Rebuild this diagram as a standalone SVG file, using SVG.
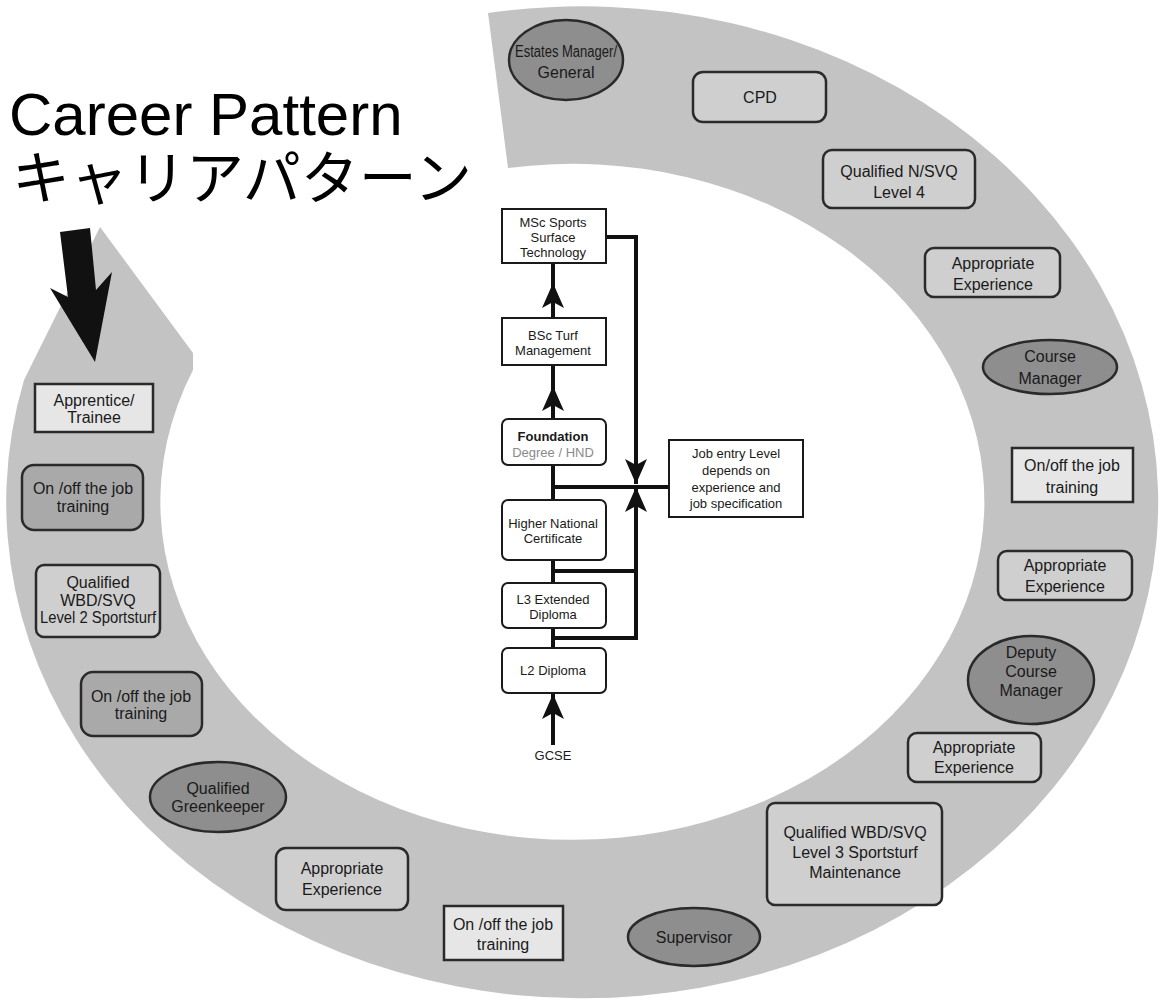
<svg xmlns="http://www.w3.org/2000/svg" width="1162" height="1000" viewBox="0 0 1162 1000">
<style>
.band{fill:#c3c3c3}
.ell{fill:#8e8e8e;stroke:#2a2a2a;stroke-width:2.5}
.box{fill:#cfcfcf;stroke:#2a2a2a;stroke-width:2.5}
.lbox{fill:#e6e6e6;stroke:#2a2a2a;stroke-width:2.5}
.dbox{fill:#a9a9a9;stroke:#2a2a2a;stroke-width:2.5}
.cbox{fill:#ffffff;stroke:#1a1a1a;stroke-width:2}
.t{font-family:"Liberation Sans",Arial,sans-serif;font-size:16px;text-anchor:middle;fill:#1a1a1a}
.tc{font-family:"Liberation Sans",Arial,sans-serif;font-size:13px;text-anchor:middle;fill:#1a1a1a}
.title{font-family:"Liberation Sans","Noto Sans CJK JP",sans-serif;fill:#000}
.conn{stroke:#111;stroke-width:4;fill:none}
</style>
<defs>
<marker id="ah" markerUnits="userSpaceOnUse" markerWidth="26" markerHeight="24" viewBox="0 0 26 24" refX="25" refY="12" orient="auto">
<path d="M0,1 L25,12 L0,23 L6,12 Z" fill="#111"/>
</marker>
</defs>

<g id="ring">
<path class="band" d="M488,13 A576,496 0 1 1 24,380 L100,227 L193,353 L193,370 A412,338 0 1 0 508,168 Z"/>
</g>

<g id="title">
<text class="title" x="9" y="135" font-size="60">Career Pattern</text>
<text class="title" x="12" y="199" font-size="58">キャリアパターン</text>
<polygon points="60,232 90,228 96,290 112,272 95,362 50,288 68,297" fill="#111"/>
</g>

<g id="n-estates"><ellipse class="ell" cx="566" cy="60" rx="57" ry="40"/><text class="t" font-size="13.5"><tspan x="566" y="57" textLength="102" lengthAdjust="spacingAndGlyphs">Estates Manager/</tspan><tspan x="566" y="78">General</tspan></text></g>
<g id="n-cpd"><rect class="box" x="693" y="72" width="133" height="50" rx="10"/><text class="t" x="760" y="103">CPD</text></g>
<g id="n-nsvq4"><rect class="box" x="823" y="150" width="152" height="58" rx="9"/><text class="t" font-size="17"><tspan x="899" y="177">Qualified N/SVQ</tspan><tspan x="899" y="198">Level 4</tspan></text></g>
<g id="n-exp1"><rect class="box" x="925" y="248" width="135" height="49" rx="9"/><text class="t" font-size="17"><tspan x="993" y="269">Appropriate</tspan><tspan x="993" y="290">Experience</tspan></text></g>
<g id="n-coursemgr"><ellipse class="ell" cx="1050" cy="367" rx="67" ry="27"/><text class="t" font-size="17"><tspan x="1050" y="362">Course</tspan><tspan x="1050" y="384">Manager</tspan></text></g>
<g id="n-train-r"><rect class="lbox" x="1012" y="448" width="121" height="54"/><text class="t" font-size="17"><tspan x="1072" y="471">On/off the job</tspan><tspan x="1072" y="493">training</tspan></text></g>
<g id="n-exp2"><rect class="box" x="998" y="551" width="134" height="49" rx="9"/><text class="t" font-size="17"><tspan x="1065" y="571">Appropriate</tspan><tspan x="1065" y="592">Experience</tspan></text></g>
<g id="n-deputy"><ellipse class="ell" cx="1031" cy="680" rx="63" ry="44"/><text class="t" font-size="17"><tspan x="1031" y="658">Deputy</tspan><tspan x="1031" y="677">Course</tspan><tspan x="1031" y="696">Manager</tspan></text></g>
<g id="n-exp3"><rect class="box" x="908" y="733" width="133" height="49" rx="9"/><text class="t" font-size="17"><tspan x="974" y="753">Appropriate</tspan><tspan x="974" y="773">Experience</tspan></text></g>
<g id="n-wbd3"><rect class="box" x="767" y="803" width="175" height="102" rx="8"/><text class="t" font-size="17"><tspan x="855" y="838">Qualified WBD/SVQ</tspan><tspan x="855" y="858">Level 3 Sportsturf</tspan><tspan x="855" y="878">Maintenance</tspan></text></g>
<g id="n-supervisor"><ellipse class="ell" cx="694" cy="937" rx="66" ry="29"/><text class="t" x="694" y="943" font-size="17">Supervisor</text></g>
<g id="n-train-b"><rect class="lbox" x="444" y="906" width="119" height="54"/><text class="t" font-size="17"><tspan x="503" y="930">On /off the job</tspan><tspan x="503" y="950">training</tspan></text></g>
<g id="n-exp4"><rect class="box" x="276" y="848" width="132" height="62" rx="10"/><text class="t" font-size="17"><tspan x="342" y="874">Appropriate</tspan><tspan x="342" y="895">Experience</tspan></text></g>
<g id="n-greenkeeper"><ellipse class="ell" cx="218" cy="797" rx="68" ry="35"/><text class="t" font-size="17"><tspan x="218" y="794">Qualified</tspan><tspan x="218" y="812">Greenkeeper</tspan></text></g>
<g id="n-train-l2"><rect class="dbox" x="81" y="672" width="121" height="64" rx="12"/><text class="t" font-size="15"><tspan x="141" y="702">On /off the job</tspan><tspan x="141" y="719">training</tspan></text></g>
<g id="n-wbd2"><rect class="box" x="36" y="565" width="124" height="72" rx="8"/><text class="t" font-size="14.5"><tspan x="98" y="588">Qualified</tspan><tspan x="98" y="606">WBD/SVQ</tspan><tspan x="98" y="623" textLength="116" lengthAdjust="spacingAndGlyphs">Level 2 Sportsturf</tspan></text></g>
<g id="n-train-l1"><rect class="dbox" x="22" y="465" width="121" height="65" rx="12"/><text class="t" font-size="15"><tspan x="83" y="494">On /off the job</tspan><tspan x="83" y="512">training</tspan></text></g>
<g id="n-apprentice"><rect class="lbox" x="35" y="384" width="118" height="48"/><text class="t" font-size="14.5"><tspan x="94" y="406">Apprentice/</tspan><tspan x="94" y="423">Trainee</tspan></text></g>

<g id="connectors">
<path class="conn" d="M553,745 V694" marker-end="url(#ah)"/>
<path class="conn" d="M553,648 V628"/>
<path class="conn" d="M553,583 V560"/>
<path class="conn" d="M553,500 V465"/>
<path class="conn" d="M553,419 L553,386 L553,365" marker-mid="url(#ah)"/>
<path class="conn" d="M553,318 L553,283 L553,263" marker-mid="url(#ah)"/>
<path class="conn" d="M553,638 H636 V487" marker-end="url(#ah)"/>
<path class="conn" d="M553,571 H636"/>
<path class="conn" d="M606,237 H636 V484" marker-end="url(#ah)"/>
<path class="conn" d="M553,487 H669"/>
</g>

<g id="c-msc"><rect class="cbox" x="502" y="209" width="104" height="54"/><text class="tc"><tspan x="553" y="226.5">MSc Sports</tspan><tspan x="553" y="241.5">Surface</tspan><tspan x="553" y="256.5">Technology</tspan></text></g>
<g id="c-bsc"><rect class="cbox" x="502" y="318" width="104" height="47"/><text class="tc"><tspan x="553" y="339.5">BSc Turf</tspan><tspan x="553" y="354.5">Management</tspan></text></g>
<g id="c-foundation"><rect class="cbox" x="502" y="419" width="104" height="46" rx="6"/><text class="tc"><tspan x="553" y="440.5" font-weight="bold">Foundation</tspan><tspan x="553" y="456.5" fill="#8a8a8a">Degree / HND</tspan></text></g>
<g id="c-hnc"><rect class="cbox" x="502" y="500" width="104" height="60" rx="6"/><text class="tc"><tspan x="553" y="527.5">Higher National</tspan><tspan x="553" y="542.5">Certificate</tspan></text></g>
<g id="c-l3"><rect class="cbox" x="502" y="583" width="104" height="45" rx="6"/><text class="tc"><tspan x="553" y="603.5">L3 Extended</tspan><tspan x="553" y="618.5">Diploma</tspan></text></g>
<g id="c-l2"><rect class="cbox" x="502" y="648" width="104" height="45" rx="6"/><text class="tc" x="553" y="674.5">L2 Diploma</text></g>
<g id="c-gcse"><text class="tc" x="553" y="759.5" fill="#666">GCSE</text></g>
<g id="c-job"><rect class="cbox" x="669" y="440" width="134" height="77"/><text class="tc" font-size="14"><tspan x="736" y="458">Job entry Level</tspan><tspan x="736" y="475">depends on</tspan><tspan x="736" y="492">experience and</tspan><tspan x="736" y="508">job specification</tspan></text></g>
</svg>
